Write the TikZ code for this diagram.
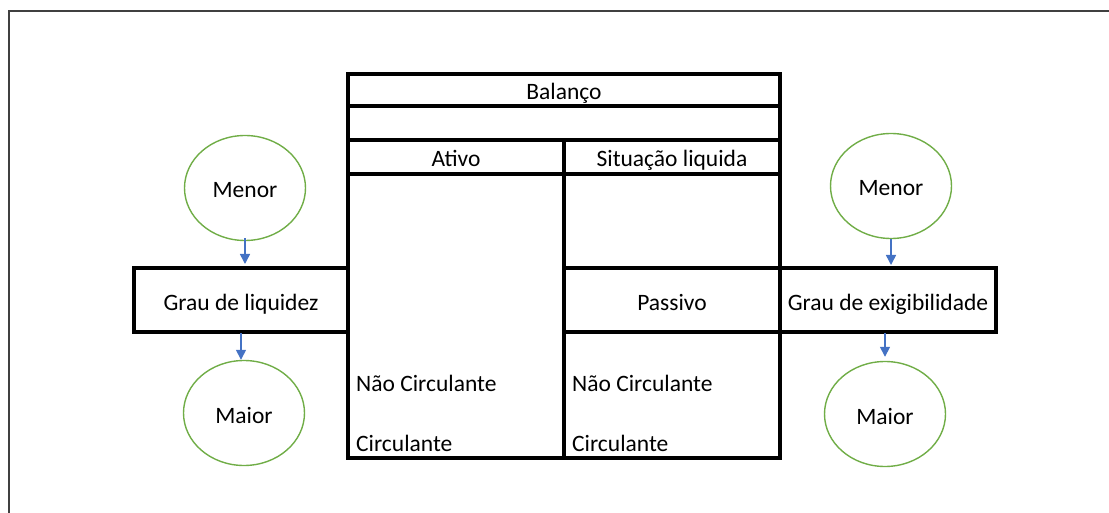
\documentclass[tikz,border=0pt]{standalone}
\usepackage{fontspec}
\setmainfont{Carlito}
\usetikzlibrary{positioning,shapes.geometric,arrows.meta}
\definecolor{verde}{HTML}{70AD47}
\definecolor{azul}{HTML}{4472C4}

\begin{document}
\begin{tikzpicture}[x=1pt, y=-1pt,
    every node/.style = { font = \fontsize{23.5}{28}\selectfont, inner sep = 0pt, text height = 20pt, text depth = 0pt },
    celula/.style = { draw, shape = rectangle, line width = 3.2pt, outer sep = 0pt },
    circulo/.style = { draw = verde, shape = ellipse, line width = 1.4pt, minimum width = 121pt, minimum height = 105pt },
    seta/.style = { draw = azul, line width = 1.5pt, -{Triangle[width=10pt,length=10pt]} }]
    \useasboundingbox (0,0) rectangle (1109,513);
    \draw [black!75, line width = 1.8pt] (9,513) -- (9,11) -- (1109,11);

    % balanco
    \node [celula, minimum width = 432pt, minimum height = 32pt] (balanco) at (564,90) { Balanço };
    \node [celula, minimum width = 432pt, minimum height = 34pt, below = 0pt of balanco] (vazio) {};
    \node [celula, minimum width = 216pt, minimum height = 34pt, anchor = north west] (ativo) at (vazio.south west) { Ativo };
    \node [celula, minimum width = 216pt, minimum height = 34pt, right = 0pt of ativo] (situacao) { Situação liquida };
    \node [celula, minimum width = 216pt, minimum height = 284pt, anchor = north west] (corpoAtivo) at (ativo.south west) {};
    \node [celula, minimum width = 216pt, minimum height = 94pt, anchor = north west] (topoPassivo) at (situacao.south west) {};
    \node [celula, minimum width = 216pt, minimum height = 64pt, below = 0pt of topoPassivo] (passivo) { Passivo };
    \node [celula, minimum width = 216pt, minimum height = 126pt, below = 0pt of passivo] (basePassivo) {};
    \node [celula, minimum width = 214pt, minimum height = 64pt, anchor = east] (liquidez) at (corpoAtivo.west |- passivo) { Grau de liquidez };
    \node [celula, minimum width = 216pt, minimum height = 64pt, right = 0pt of passivo] (exigib) { Grau de exigibilidade };

    \node [anchor = west] (ncAtivo) at (356,381) { Não Circulante };
    \node [anchor = west] (cAtivo) at (356,441) { Circulante };
    \node [anchor = west] (ncPassivo) at (572,381) { Não Circulante };
    \node [anchor = west] (cPassivo) at (572,441) { Circulante };

    % graus
    \node [circulo] (menorL) at (245,188) { Menor };
    \node [circulo] (maiorL) at (244,413) { Maior };
    \node [circulo] (menorR) at (891,186) { Menor };
    \node [circulo] (maiorR) at (885,414) { Maior };

    \draw [seta, shorten < = -3pt, shorten > = 4pt] (menorL.south) -- (menorL.south |- liquidez.north);
    \draw [seta, shorten < = 1pt] (liquidez.south) -- (liquidez.south |- maiorL.north);
    \draw [seta, shorten > = 3pt] (menorR.south) -- (menorR.south |- exigib.north);
    \draw [seta, shorten < = 1pt, shorten > = 4pt] (maiorR.north |- exigib.south) -- (maiorR.north);
\end{tikzpicture}
\end{document}
